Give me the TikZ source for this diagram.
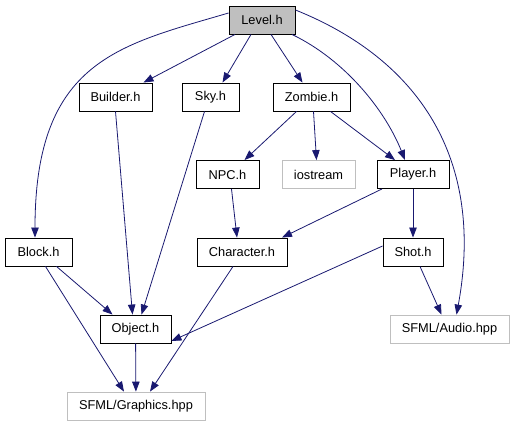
\documentclass[tikz,border=0pt]{standalone}
\usepackage{fontspec}
\setmainfont{Liberation Sans}
\usepackage{xcolor}
\usetikzlibrary{arrows.meta, positioning}
\definecolor{edgeblue}{HTML}{191970}
\definecolor{boxgray}{HTML}{BFBFBF}

\begin{document}
\begin{tikzpicture}[
    x=1pt, y=-1pt,
    every node/.style={
        draw=black,
        line width=0.9pt,
        rectangle,
        inner sep=0pt,
        minimum height=28pt,
        font=\fontsize{12.8}{15}\selectfont,
        fill=white
    },
    sysfile/.style={draw=boxgray, line width=0.8pt},
    arrow/.style={-{Triangle[length=10pt, width=7.5pt]}, edgeblue, line width=0.8pt}
]
\useasboundingbox (0,0) rectangle (513,427);

% ---------- ROOT
\node (level) [fill=boxgray, minimum width=66pt] at (262,20) {Level.h};

% ---------- SECOND ROW
\node (builder) [minimum width=73pt] at (115.5,97) {Builder.h};
\node (sky) [minimum width=57pt] at (210.5,97) {Sky.h};
\node (zombie) [minimum width=77pt] at (311.5,97) {Zombie.h};

% ---------- THIRD ROW
\node (npc) [minimum width=63pt] at (227.5,174.5) {NPC.h};
\node (iostream) [sysfile, minimum width=73pt] at (318.5,174.5) {iostream};
\node (player) [minimum width=72pt] at (413,174.5) {Player.h};

% ---------- FOURTH ROW
\node (block) [minimum width=67pt] at (38.5,252) {Block.h};
\node (character) [minimum width=90pt] at (242,252) {Character.h};
\node (shot) [minimum width=60pt] at (413,252) {Shot.h};

% ---------- BOTTOM
\node (object) [minimum width=71pt] at (135.5,329) {Object.h};
\node (audio) [sysfile, minimum width=119pt] at (449.5,329) {SFML/Audio.hpp};
\node (graphics) [sysfile, minimum width=138pt] at (136,406) {SFML/Graphics.hpp};

% ---------- FROM LEVEL
\draw[arrow] ([yshift=7pt]level.west) .. controls (120,45) and (35,60) .. (block.north -| 35,0);
\draw[arrow] ([xshift=-27pt]level.south) -- ([xshift=28pt]builder.north);
\draw[arrow] ([xshift=-11pt]level.south) -- ([xshift=12pt]sky.north);
\draw[arrow] ([xshift=9pt]level.south) -- ([xshift=-9pt]zombie.north);
\draw[arrow] ([xshift=30pt]level.south) .. controls (345,60) and (385,110) .. ([xshift=-8pt]player.north);
\draw[arrow] ([yshift=10pt]level.east) .. controls (420,60) and (485,160) .. ([xshift=7pt]audio.north);

% ---------- FROM ZOMBIE
\draw[arrow] ([xshift=-15pt]zombie.south) -- ([xshift=17pt]npc.north);
\draw[arrow] ([xshift=2pt]zombie.south) -- ([xshift=-2pt]iostream.north);
\draw[arrow] ([xshift=19pt]zombie.south) -- ([xshift=-18pt]player.north);

% ---------- MIDDLE
\draw[arrow] ([xshift=4pt]npc.south) -- ([xshift=-5pt]character.north);
\draw[arrow] ([xshift=-31pt]player.south) -- ([xshift=40pt]character.north);
\draw[arrow] (player) -- (shot);

% ---------- INTO OBJECT
\draw[arrow] (builder.south) -- ([xshift=-3pt]object.north);
\draw[arrow] ([xshift=-6pt]sky.south) -- ([xshift=6pt]object.north);
\draw[arrow] ([xshift=18pt]block.south) -- ([xshift=-23pt]object.north);
\draw[arrow] ([yshift=6pt]shot.west) -- ([yshift=-12pt]object.east);
\draw[arrow] ([xshift=7pt]shot.south) -- ([xshift=-8pt]audio.north);

% ---------- INTO GRAPHICS
\draw[arrow] ([xshift=7pt]block.south) -- ([xshift=-12pt]graphics.north);
\draw[arrow] (object) -- (graphics);
\draw[arrow] ([xshift=-9pt]character.south) -- ([xshift=14pt]graphics.north);

\end{tikzpicture}
\end{document}
